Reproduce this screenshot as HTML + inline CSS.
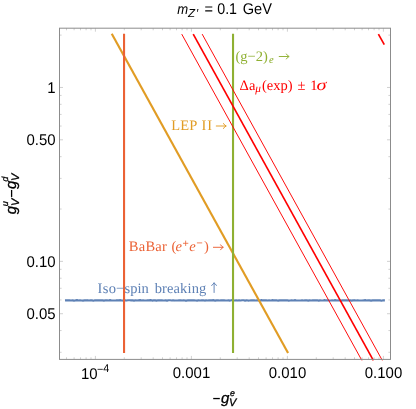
<!DOCTYPE html>
<html><head><meta charset="utf-8"><title>mZ' = 0.1 GeV</title>
<style>html,body{margin:0;padding:0;background:#fff;}svg{display:block;will-change:transform;transform:translateZ(0);}text{font-family:"Liberation Sans",sans-serif;text-rendering:geometricPrecision;}.s{font-family:"Liberation Serif",serif;text-rendering:geometricPrecision;}</style></head><body>
<svg width="416" height="409" viewBox="0 0 416 409">
<rect width="416" height="409" fill="#fff"/>
<path d="M66.50 359.40v-2.1M66.50 28.19v2.1M74.10 359.40v-2.1M74.10 28.19v2.1M80.53 359.40v-2.1M80.53 28.19v2.1M86.10 359.40v-2.1M86.10 28.19v2.1M91.01 359.40v-2.1M91.01 28.19v2.1M95.40 359.40v-3.5M95.40 28.19v3.5M124.30 359.40v-2.1M124.30 28.19v2.1M141.20 359.40v-2.1M141.20 28.19v2.1M153.20 359.40v-2.1M153.20 28.19v2.1M162.50 359.40v-2.1M162.50 28.19v2.1M170.10 359.40v-2.1M170.10 28.19v2.1M176.53 359.40v-2.1M176.53 28.19v2.1M182.10 359.40v-2.1M182.10 28.19v2.1M187.01 359.40v-2.1M187.01 28.19v2.1M191.40 359.40v-3.5M191.40 28.19v3.5M220.30 359.40v-2.1M220.30 28.19v2.1M237.20 359.40v-2.1M237.20 28.19v2.1M249.20 359.40v-2.1M249.20 28.19v2.1M258.50 359.40v-2.1M258.50 28.19v2.1M266.10 359.40v-2.1M266.10 28.19v2.1M272.53 359.40v-2.1M272.53 28.19v2.1M278.10 359.40v-2.1M278.10 28.19v2.1M283.01 359.40v-2.1M283.01 28.19v2.1M287.40 359.40v-3.5M287.40 28.19v3.5M316.30 359.40v-2.1M316.30 28.19v2.1M333.20 359.40v-2.1M333.20 28.19v2.1M345.20 359.40v-2.1M345.20 28.19v2.1M354.50 359.40v-2.1M354.50 28.19v2.1M362.10 359.40v-2.1M362.10 28.19v2.1M368.53 359.40v-2.1M368.53 28.19v2.1M374.10 359.40v-2.1M374.10 28.19v2.1M379.01 359.40v-2.1M379.01 28.19v2.1M383.40 359.40v-3.5M383.40 28.19v3.5M59.50 352.30h2.1M390.50 352.30h-2.1M59.50 330.57h2.1M390.50 330.57h-2.1M59.50 313.72h3.5M390.50 313.72h-3.5M59.50 299.95h2.1M390.50 299.95h-2.1M59.50 288.31h2.1M390.50 288.31h-2.1M59.50 278.22h2.1M390.50 278.22h-2.1M59.50 269.33h2.1M390.50 269.33h-2.1M59.50 261.37h3.5M390.50 261.37h-3.5M59.50 209.02h2.1M390.50 209.02h-2.1M59.50 178.40h2.1M390.50 178.40h-2.1M59.50 156.67h2.1M390.50 156.67h-2.1M59.50 139.82h3.5M390.50 139.82h-3.5M59.50 126.05h2.1M390.50 126.05h-2.1M59.50 114.41h2.1M390.50 114.41h-2.1M59.50 104.32h2.1M390.50 104.32h-2.1M59.50 95.43h2.1M390.50 95.43h-2.1M59.50 87.47h3.5M390.50 87.47h-3.5M59.50 35.12h2.1M390.50 35.12h-2.1" stroke="#8c8c8c" stroke-width="0.4" fill="none"/>
<polyline points="65.0,300.35 66.5,300.24 68.0,300.39 69.5,300.32 71.0,300.53 72.5,300.38 74.0,300.57 75.5,300.39 77.0,300.14 78.5,300.52 80.0,300.28 81.5,300.45 83.0,300.57 84.5,300.40 86.0,300.41 87.5,300.20 89.0,300.46 90.5,300.34 92.0,300.38 93.5,300.70 95.0,300.28 96.5,300.39 98.0,300.35 99.5,300.28 101.0,300.44 102.5,300.40 104.0,300.64 105.5,300.30 107.0,300.33 108.5,300.46 110.0,300.15 111.5,300.52 113.0,300.50 114.5,300.45 116.0,300.44 117.5,300.28 119.0,300.43 120.5,300.18 122.0,300.50 123.5,300.59 125.0,300.29 126.5,300.55 128.1,300.29 129.6,300.28 131.1,300.37 132.6,300.43 134.1,300.60 135.6,300.30 137.1,300.53 138.6,300.33 140.1,300.15 141.6,300.54 143.1,300.37 144.6,300.50 146.1,300.47 147.6,300.39 149.1,300.36 150.6,300.16 152.1,300.56 153.6,300.40 155.1,300.40 156.6,300.63 158.1,300.24 159.6,300.34 161.1,300.31 162.6,300.42 164.1,300.48 165.6,300.39 167.1,300.64 168.6,300.22 170.1,300.29 171.6,300.47 173.1,300.26 174.6,300.55 176.1,300.47 177.6,300.47 179.1,300.31 180.6,300.24 182.1,300.50 183.6,300.23 185.1,300.56 186.6,300.58 188.1,300.27 189.6,300.44 191.1,300.26 192.6,300.38 194.1,300.37 195.6,300.50 197.1,300.61 198.6,300.21 200.1,300.47 201.6,300.32 203.1,300.22 204.6,300.56 206.1,300.44 207.6,300.52 209.1,300.32 210.6,300.37 212.1,300.37 213.6,300.18 215.1,300.64 216.6,300.44 218.1,300.39 219.6,300.51 221.1,300.23 222.6,300.36 224.1,300.30 225.6,300.55 227.1,300.49 228.6,300.32 230.1,300.58 231.6,300.17 233.1,300.30 234.6,300.49 236.1,300.38 237.6,300.55 239.1,300.38 240.6,300.47 242.1,300.23 243.6,300.25 245.1,300.59 246.6,300.29 248.1,300.56 249.6,300.50 251.1,300.26 252.6,300.36 254.1,300.27 255.6,300.52 257.1,300.37 258.6,300.50 260.1,300.57 261.6,300.13 263.1,300.43 264.6,300.34 266.1,300.35 267.6,300.55 269.1,300.44 270.6,300.51 272.1,300.19 273.6,300.38 275.1,300.42 276.6,300.24 278.1,300.67 279.6,300.43 281.1,300.36 282.6,300.38 284.1,300.27 285.6,300.42 287.1,300.31 288.6,300.63 290.1,300.46 291.6,300.25 293.1,300.51 294.6,300.19 296.1,300.37 297.6,300.50 299.1,300.47 300.6,300.51 302.1,300.26 303.6,300.47 305.1,300.22 306.6,300.31 308.1,300.65 309.6,300.34 311.1,300.51 312.6,300.39 314.1,300.29 315.6,300.33 317.1,300.31 318.6,300.64 320.1,300.35 321.6,300.46 323.1,300.50 324.6,300.12 326.1,300.43 327.6,300.39 329.1,300.47 330.6,300.49 332.1,300.40 333.6,300.48 335.1,300.12 336.6,300.43 338.1,300.49 339.6,300.32 341.1,300.63 342.6,300.37 344.1,300.34 345.6,300.28 347.1,300.34 348.6,300.52 350.1,300.31 351.6,300.64 353.1,300.40 354.6,300.19 356.1,300.46 357.6,300.26 359.1,300.46 360.6,300.47 362.1,300.51 363.6,300.44 365.1,300.17 366.6,300.50 368.1,300.27 369.6,300.38 371.1,300.65 372.6,300.35 374.1,300.43 375.6,300.28 377.1,300.36 378.6,300.36 380.1,300.36 381.6,300.70 383.1,300.30 384.6,300.39 384.9,300.4" fill="none" stroke="#5E81B5" stroke-width="2.15" stroke-linejoin="round"/>
<line x1="111.75" y1="33.70" x2="288.07" y2="353.10" stroke="#E19C24" stroke-width="2.15"/>
<line x1="233.03" y1="33.7" x2="233.03" y2="353.1" stroke="#8FB032" stroke-width="2.1"/>
<line x1="124.05" y1="33.7" x2="124.05" y2="353.1" stroke="#EB6235" stroke-width="2.1"/>
<line x1="181.72" y1="34.10" x2="361.85" y2="360.40" stroke="#FF0000" stroke-width="0.95"/>
<line x1="193.22" y1="34.10" x2="373.35" y2="360.40" stroke="#FF0000" stroke-width="1.65"/>
<line x1="202.17" y1="34.10" x2="382.30" y2="360.40" stroke="#FF0000" stroke-width="0.95"/>
<line x1="378.4" y1="34.1" x2="384.3" y2="44.6" stroke="#FF0000" stroke-width="1.65"/>
<rect x="59.5" y="28.19" width="331.00" height="331.21" fill="none" stroke="#8c8c8c" stroke-width="1"/>
<text transform="translate(55.60 93.07) scale(0.965 1)" font-size="15.5" text-anchor="end" fill="#000">1</text>
<text transform="translate(55.60 145.42) scale(0.965 1)" font-size="15.5" text-anchor="end" fill="#000">0.50</text>
<text transform="translate(55.60 266.97) scale(0.965 1)" font-size="15.5" text-anchor="end" fill="#000">0.10</text>
<text transform="translate(55.60 319.32) scale(0.965 1)" font-size="15.5" text-anchor="end" fill="#000">0.05</text>
<text transform="translate(191.50 377.80) scale(0.965 1)" font-size="15.5" text-anchor="middle" fill="#000">0.001</text>
<text transform="translate(287.50 377.80) scale(0.965 1)" font-size="15.5" text-anchor="middle" fill="#000">0.010</text>
<text transform="translate(383.50 377.80) scale(0.965 1)" font-size="15.5" text-anchor="middle" fill="#000">0.100</text>
<text transform="translate(81.00 378.70) scale(0.965 1)" font-size="15.5" text-anchor="start" fill="#000">10<tspan font-size="11.2" dx="-0.7" dy="-5.7">−</tspan><tspan font-size="11.2" dy="-0.9">4</tspan></text>
<text transform="translate(177.30 13.90) scale(0.9 1)" font-size="14.5" text-anchor="start" fill="#000" font-style="italic">m</text>
<text transform="translate(188.00 16.80) scale(1.0 1)" font-size="11.5" text-anchor="start" fill="#000" font-style="italic">Z<tspan dx="0.9">′</tspan></text>
<text transform="translate(204.40 13.90) scale(0.94 1)" font-size="15.5" text-anchor="start" fill="#000">=</text>
<text transform="translate(217.20 13.90) scale(0.92 1)" font-size="15.5" text-anchor="start" fill="#000">0.1</text>
<text transform="translate(242.70 13.90) scale(0.94 1)" font-size="15.5" text-anchor="start" fill="#000">GeV</text>
<g transform="translate(221.5 402.85)"><path d="M-8.3 -4.3H-1.7" stroke="#000" stroke-width="1.3" fill="none"/><text x="-0.40" y="0.00" font-size="15" font-style="italic" fill="#000" stroke="#000" stroke-width="0.3">g</text><text x="8.50" y="-7.20" font-size="8.8" font-style="italic" fill="#000" stroke="#000" stroke-width="0.3">e</text><text x="7.55" y="3.15" font-size="11" font-style="italic" fill="#000" stroke="#000" stroke-width="0.3">V</text></g>
<g transform="translate(16.1 214.2) rotate(-90)"><text x="0.00" y="0.00" font-size="15" font-style="italic" fill="#000" stroke="#000" stroke-width="0.3">g</text><text x="8.00" y="-8.30" font-size="8.8" font-style="italic" fill="#000" stroke="#000" stroke-width="0.3">u</text><text x="8.10" y="2.50" font-size="11" font-style="italic" fill="#000" stroke="#000" stroke-width="0.3">V</text><path d="M17.25 -4.5H24.25" stroke="#000" stroke-width="1.3" fill="none"/><text x="25.30" y="0.00" font-size="15" font-style="italic" fill="#000" stroke="#000" stroke-width="0.3">g</text><text x="32.70" y="-8.35" font-size="8.8" font-style="italic" fill="#000" stroke="#000" stroke-width="0.3">d</text><text x="33.15" y="2.50" font-size="11" font-style="italic" fill="#000" stroke="#000" stroke-width="0.3">V</text></g>
<text class="s" x="171.30" y="129.90" font-size="14.5" fill="#E19C24" letter-spacing="0.15">LEP</text>
<text class="s" x="201.60" y="129.90" font-size="14.5" fill="#E19C24" letter-spacing="0.9">II</text>
<path d="M215.90 126.00H225.90M223.30 123.20Q224.32 125.22 226.30 126.00Q224.32 126.78 223.30 128.80" fill="none" stroke="#E19C24" stroke-width="0.95" stroke-linecap="butt" stroke-linejoin="round"/>
<text class="s" x="235.40" y="61.10" font-size="14.5" fill="#8FB032">(g−2)</text>
<text class="s" x="269.00" y="62.70" font-size="10.5" fill="#8FB032" font-style="italic">e</text>
<path d="M278.80 56.50H288.80M286.20 53.70Q287.22 55.72 289.20 56.50Q287.22 57.28 286.20 59.30" fill="none" stroke="#8FB032" stroke-width="0.95" stroke-linecap="butt" stroke-linejoin="round"/>
<text class="s" x="239.60" y="89.50" font-size="14.5" fill="#FF0000">Δa</text>
<text class="s" x="255.30" y="91.80" font-size="11.2" fill="#FF0000" font-style="italic">μ</text>
<text class="s" x="262.00" y="89.50" font-size="14.5" fill="#FF0000">(exp)</text>
<text class="s" x="297.50" y="89.50" font-size="14.5" fill="#FF0000">±</text>
<text class="s" x="310.20" y="89.50" font-size="14.5" fill="#FF0000">1</text>
<text class="s" transform="translate(316.6 89.5) scale(1.27 1)" font-size="16" font-style="italic" fill="#FF0000">σ</text>
<text class="s" x="128.70" y="251.30" font-size="14.5" fill="#EB6235" letter-spacing="0.3">BaBar</text>
<text class="s" x="171.40" y="251.30" font-size="14.5" fill="#EB6235">(</text>
<text class="s" x="175.40" y="251.30" font-size="14.5" fill="#EB6235" font-style="italic">e</text>
<path d="M183.0 243.3H188.3M185.65 240.65V245.95M196.9 242.9H202.2" stroke="#EB6235" stroke-width="0.8" fill="none"/>
<text class="s" x="189.30" y="251.30" font-size="14.5" fill="#EB6235" font-style="italic">e</text>
<text class="s" x="204.10" y="251.30" font-size="14.5" fill="#EB6235">)</text>
<path d="M213.00 247.30H223.00M220.40 244.50Q221.42 246.52 223.40 247.30Q221.42 248.08 220.40 250.10" fill="none" stroke="#EB6235" stroke-width="0.95" stroke-linecap="butt" stroke-linejoin="round"/>
<text class="s" x="97.60" y="293.30" font-size="14.5" fill="#5E81B5" letter-spacing="0.3">Iso</text>
<text class="s" x="115.92" y="293.30" font-size="14.5" fill="#5E81B5">−</text>
<text class="s" x="124.60" y="293.30" font-size="14.5" fill="#5E81B5">spin</text>
<text class="s" x="154.70" y="293.30" font-size="14.5" fill="#5E81B5" letter-spacing="0.12">breaking</text>
<path d="M214.10 292.90V283.00M211.30 285.60Q213.32 284.58 214.10 282.60Q214.88 284.58 216.90 285.60" fill="none" stroke="#5E81B5" stroke-width="0.95" stroke-linecap="butt" stroke-linejoin="round"/>
</svg></body></html>
